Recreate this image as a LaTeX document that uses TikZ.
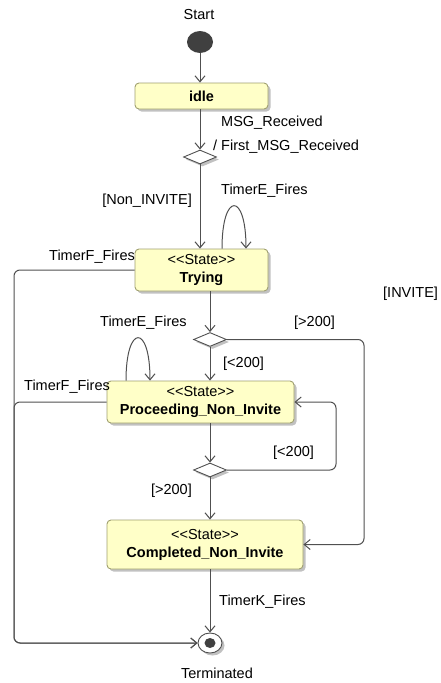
\documentclass[tikz,border=0pt]{standalone}
\usepackage{fontspec}
\setmainfont{Liberation Sans}
\usetikzlibrary{shapes.geometric,shadows,arrows.meta}
\definecolor{statefill}{HTML}{FFFFC8}
\definecolor{stateline}{HTML}{A0A070}
\definecolor{wire}{HTML}{505050}
\definecolor{dot}{HTML}{404040}
% stereotype text, kerned so that the font does not merge << and >> into guillemets
\newcommand{\stereo}[1]{<\kern0pt<#1>\kern0pt>}
\begin{document}
\begin{tikzpicture}[x=1pt,y=-1pt,
  every node/.style={font=\fontsize{14.5}{18}\selectfont},
  lbl/.style={inner sep=0pt},
  softshadow/.style={drop shadow={shadow xshift=2.5pt,shadow yshift=-2.5pt,fill=black!30,opacity=0.8}},
  statebox/.style={rectangle,rounded corners=4pt,draw=stateline,line width=0.9pt,fill=statefill,
    softshadow,align=center,inner sep=0pt},
  choice/.style={diamond,draw=wire,line width=0.9pt,fill=white,softshadow,inner sep=0pt,
    minimum width=33pt,minimum height=14pt},
  flow/.style={draw=wire,line width=1pt,-{Straight Barb[length=6pt,width=10pt]}},
  routed/.style={flow,rounded corners=6pt}]
\useasboundingbox (0,0) rectangle (440,683);

% initial and final pseudo-states
\node[ellipse,fill=dot,minimum width=26pt,minimum height=22pt,inner sep=0pt] (start) at (200,42) {};
\node[lbl] (startlbl) at (199,15) {Start};
\node[ellipse,draw=wire,line width=0.9pt,fill=white,softshadow,minimum width=24pt,minimum height=20pt,inner sep=0pt] (term) at (210,643) {};
\node[ellipse,fill=dot,minimum width=11pt,minimum height=10pt,inner sep=0pt] (termdot) at (term.center) {};
\node[lbl] (termlbl) at (217,673) {Terminated};

% states
\node[statebox,minimum width=133pt,minimum height=26pt] (idle) at (201.5,96) {\textbf{idle}};
\node[statebox,minimum width=133pt,minimum height=42pt] (trying) at (201.5,270) {\stereo{State}\\\textbf{Trying}};
\node[statebox,minimum width=187pt,minimum height=42pt] (proc) at (200.5,402) {\stereo{State}\\\textbf{Proceeding\_Non\_Invite}};
\node[statebox,minimum width=196pt,minimum height=49pt] (comp) at (205,544.5) {\stereo{State}\\\textbf{Completed\_Non\_Invite}};

% choice points
\node[choice] (d1) at (200,157) {};
\node[choice] (d2) at (210,339.5) {};
\node[choice] (d3) at (210,470) {};

% routing columns
\coordinate (lft) at (14,643);
\coordinate (rt) at (364,0);
\coordinate (rtin) at (336,0);

% transitions
\draw[flow] (start) -- (start |- idle.north);
\draw[flow] (idle.south -| d1) -- (d1.north);
\draw[flow] (d1.south) -- (d1.south |- trying.north);
\draw[flow] ([xshift=20.5pt]trying.north) to[out=90,in=90,distance=57pt] ([xshift=44.5pt]trying.north);
\draw[routed] (trying.west) -- (trying.west -| lft) -- (lft) -- (term.west);
\draw[routed] (proc.west) -- (proc.west -| lft) -- (lft) -- (term.west);
\draw[flow] (trying.south -| d2) -- (d2.north);
\draw[flow] (d2.south) -- (d2.south |- proc.north);
\draw[routed] (d2.east) -- (d2.east -| rt) -- (comp.east -| rt) -- (comp.east);
\draw[flow] ([xshift=-74.5pt]proc.north) to[out=90,in=90,distance=57pt] ([xshift=-50.5pt]proc.north);
\draw[flow] (proc.south -| d3) -- (d3.north);
\draw[routed] (d3.east) -- (d3.east -| rtin) -- (proc.east -| rtin) -- (proc.east);
\draw[flow] (d3.south) -- (d3.south |- comp.north);
\draw[flow] (comp.south -| term) -- (term.north);

% transition labels
\node[lbl,anchor=west] (l1) at (221,123) {MSG\_Received};
\node[lbl,anchor=west] (l2) at (213,147) {/ First\_MSG\_Received};
\node[lbl,anchor=east] (l3) at (192,201) {[Non\_INVITE]};
\node[lbl,anchor=west] (l4) at (221,191) {TimerE\_Fires};
\node[lbl,anchor=west] (l5) at (49,257) {TimerF\_Fires};
\node[lbl,anchor=west] (l6) at (383,294) {[INVITE]};
\node[lbl,anchor=west] (l7) at (100,323) {TimerE\_Fires};
\node[lbl,anchor=west] (l8) at (294,323) {[>200]};
\node[lbl,anchor=west] (l9) at (223,364) {[<200]};
\node[lbl,anchor=west] (l10) at (24,387) {TimerF\_Fires};
\node[lbl,anchor=west] (l11) at (273,453) {[<200]};
\node[lbl,anchor=east] (l12) at (192,491) {[>200]};
\node[lbl,anchor=west] (l13) at (219,602) {TimerK\_Fires};
\end{tikzpicture}
\end{document}
